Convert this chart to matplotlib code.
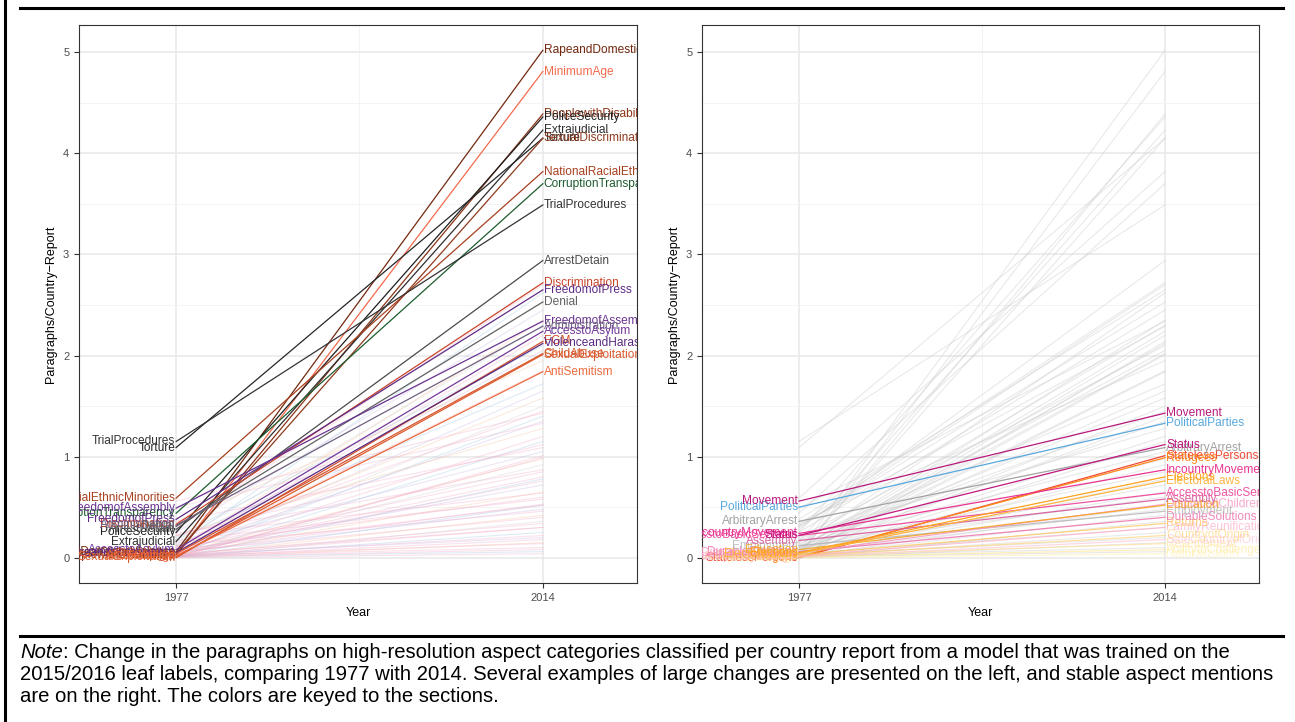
import matplotlib
matplotlib.use('Agg')
import matplotlib.pyplot as plt
from matplotlib.lines import Line2D
import numpy as np

plt.rcParams['font.family'] = ['Liberation Sans', 'DejaVu Sans']

# ------------------------------------------------------------------ data ---

years = [1977, 2014]

# aspects with large changes (labelled on the left)
big_names = ['RapeandDomesticViolence', 'MinimumAge', 'PeoplewithDisabilities',
             'PoliceSecurity', 'Extrajudicial', 'Torture', 'SexualDiscrimination',
             'NationalRacialEthnicMinorities', 'CorruptionTransparency',
             'TrialProcedures', 'ArrestDetain', 'Discrimination', 'FreedomofPress',
             'Denial', 'FreedomofAssembly', 'Administration', 'AccesstoAsylum',
             'FGM', 'ViolenceandHarassment', 'ChildAbuse', 'SexualExploitation',
             'AntiSemitism']
big_1977 = [0.06, 0.02, 0.03, 0.25, 0.16, 1.09, 0.05, 0.59, 0.44, 1.15, 0.28,
            0.33, 0.38, 0.31, 0.49, 0.32, 0.08, 0.00, 0.05, 0.04, 0.01, 0.02]
big_2014 = [5.02, 4.81, 4.39, 4.36, 4.23, 4.15, 4.15, 3.82, 3.70, 3.49, 2.94,
            2.72, 2.65, 2.53, 2.34, 2.29, 2.24, 2.14, 2.12, 2.02, 2.01, 1.84]

# stable aspects (labelled on the right), faint ones first
stable_names = ['StatelessPersons', 'Refugees', 'Naturalization',
                'AbilitytoChallenge', 'Resettlement', 'SafeCountryofOrigin',
                'CountryofOrigin', 'FamilyReunification', 'Returns',
                'DurableSolutions', 'Employment', 'DisplacedChildren', 'Education',
                'Assembly', 'AccesstoBasicServices', 'ElectoralLaws', 'Elections',
                'IncountryMovement', 'ArbitraryArrest', 'Status',
                'PoliticalParties', 'Movement']
stable_1977 = [0.00, 0.01, 0.00, 0.01, 0.02, 0.01, 0.02, 0.02, 0.03, 0.06, 0.12,
               0.05, 0.08, 0.17, 0.22, 0.04, 0.05, 0.24, 0.36, 0.22, 0.50, 0.56]
stable_2014 = [1.01, 0.99, 0.04, 0.08, 0.14, 0.18, 0.22, 0.30, 0.34, 0.40, 0.46,
               0.53, 0.52, 0.58, 0.64, 0.76, 0.80, 0.87, 1.09, 1.12, 1.33, 1.43]

# the remaining aspects (background lines)
other_1977 = [0.30, 0.12, 0.25, 0.08, 0.15, 0.05, 0.20, 0.10, 0.35, 0.04, 0.18,
              0.06, 0.10, 0.02, 0.14, 0.03, 0.08, 0.22, 0.05, 0.01, 0.12, 0.04,
              0.02, 0.09, 0.00, 0.06, 0.03, 0.11, 0.01, 0.05, 0.02, 0.00, 0.04,
              0.01, 0.03, 0.00, 0.02, 0.01]
other_2014 = [2.70, 2.62, 2.45, 2.35, 2.30, 2.20, 2.10, 2.05, 1.95, 1.85, 1.72,
              1.65, 1.58, 1.50, 1.45, 1.40, 1.35, 1.28, 1.20, 1.15, 1.05, 0.98,
              0.92, 0.85, 0.78, 0.72, 0.65, 0.60, 0.52, 0.48, 0.42, 0.36, 0.30,
              0.25, 0.20, 0.15, 0.10, 0.06]
other_section = ['p', 'b', 'l', 'o', 'g', 'p', 'b', 'l', 'o', 'p', 'b', 'l', 'o',
                 'g', 'p', 'b', 'l', 'o', 'p', 'b', 'l', 'o', 'g', 'p', 'b', 'l',
                 'o', 'p', 'b', 'l', 'o', 'g', 'p', 'b', 'l', 'o', 'p', 'b']

note_lines = ['Change in the paragraphs on high-resolution aspect categories classified '
              'per country report from a model that was trained on the',
              '2015/2016 leaf labels, comparing 1977 with 2014. Several examples of large '
              'changes are presented on the left, and stable aspect mentions',
              'are on the right. The colors are keyed to the sections.']

# ---------------------------------------------------------------- styles ---

colour = {
    'RapeandDomesticViolence': '#73290f', 'MinimumAge': '#f46a4e',
    'PeoplewithDisabilities': '#8a3416', 'PoliceSecurity': '#1f1f1f',
    'Extrajudicial': '#2e2e2e', 'Torture': '#262626',
    'SexualDiscrimination': '#8f3a1c', 'NationalRacialEthnicMinorities': '#a8401f',
    'CorruptionTransparency': '#1d5c2e', 'TrialProcedures': '#333333',
    'ArrestDetain': '#4a4a4a', 'Discrimination': '#c8442a',
    'FreedomofPress': '#5f2b86', 'Denial': '#616161',
    'FreedomofAssembly': '#6a3391', 'Administration': '#6f6180',
    'AccesstoAsylum': '#74399a', 'FGM': '#d2502e',
    'ViolenceandHarassment': '#5a2a80', 'ChildAbuse': '#d4562e',
    'SexualExploitation': '#dd5a2c', 'AntiSemitism': '#eb6a3c',
    'Movement': '#b8197c', 'PoliticalParties': '#58a8dc', 'Status': '#c0187e',
    'ArbitraryArrest': '#a3a3a3', 'StatelessPersons': '#f04a33',
    'Refugees': '#ff8a1c', 'IncountryMovement': '#ea3593', 'Elections': '#ffa31f',
    'ElectoralLaws': '#ffb540', 'AccesstoBasicServices': '#ef4d9e',
    'Assembly': '#d65a9c', 'Education': '#f7a21c', 'DisplacedChildren': '#f59cc4',
    'Employment': '#b3b3b3', 'DurableSolutions': '#ee64a6', 'Returns': '#ffc24f',
    'FamilyReunification': '#fcaac6', 'CountryofOrigin': '#ffcf6a',
    'SafeCountryofOrigin': '#fdbdd2', 'Resettlement': '#ffdb85',
    'AbilitytoChallenge': '#ffe27a', 'Naturalization': '#ffee9e',
}
pastel = {'p': '#f3a9c9', 'b': '#9fc8e6', 'l': '#c9b5e3', 'o': '#f8c39c', 'g': '#cfcfcf'}

lab_size = 8.6

# ---------------------------------------------------------------- figure ---

fig = plt.figure(figsize=(12.95, 7.22), dpi=100)
W, H = 1295, 722
ax1 = fig.add_axes([79 / W, 1 - 583 / H, 558 / W, 558 / H])
ax2 = fig.add_axes([702 / W, 1 - 583 / H, 557 / W, 558 / H])


def habille(ax):
    ax.set_xlim(1967.2, 2023.5)
    ax.set_ylim(-0.25, 5.27)
    ax.set_xticks(years)
    ax.set_xticks([1995.5], minor=True)
    ax.set_yticks(range(6))
    ax.set_yticks(np.arange(0.5, 5.5, 1), minor=True)
    ax.grid(which='major', color='#e8e8e8', lw=1.1)
    ax.grid(which='minor', color='#f3f3f3', lw=0.6)
    ax.set_axisbelow(True)
    ax.tick_params(which='minor', length=0)
    ax.tick_params(which='major', length=3.5, width=0.8, color='#333333',
                   labelcolor='#4d4d4d', labelsize=8)
    for s in ax.spines.values():
        s.set_color('#333333')
        s.set_linewidth(0.8)
    ax.set_xlabel('Year', fontsize=9, labelpad=3)
    ax.set_ylabel('Paragraphs/Country\u2212Report', fontsize=9, labelpad=4)


habille(ax1)
habille(ax2)

# left panel : large changes
for a, b, s in zip(other_1977 + stable_1977, other_2014 + stable_2014,
                   other_section + ['p'] * len(stable_1977)):
    ax1.plot(years, [a, b], color=pastel[s], lw=0.8, alpha=0.35)
for n, a, b in zip(big_names, big_1977, big_2014):
    c = colour[n]
    ax1.plot(years, [a, b], color=c, lw=0.9)
    ax1.text(1977 - 0.1, a, n, ha='right', va='center', fontsize=lab_size,
             color=c, clip_on=True)
    ax1.text(2014 + 0.1, b, n, ha='left', va='center', fontsize=lab_size,
             color=c, clip_on=True)

# right panel : stable aspects
for a, b in zip(other_1977 + big_1977, other_2014 + big_2014):
    ax2.plot(years, [a, b], color='#c8c8c8', lw=0.8, alpha=0.4)
for n, a, b in zip(stable_names, stable_1977, stable_2014):
    c = colour[n]
    al = min(1.0, 0.45 + 0.8 * b)
    ax2.plot(years, [a, b], color=c, lw=0.9, alpha=al)
    ax2.text(1977 - 0.1, a, n, ha='right', va='center', fontsize=lab_size,
             color=c, alpha=al, clip_on=True)
    ax2.text(2014 + 0.1, b, n, ha='left', va='center', fontsize=lab_size,
             color=c, alpha=al, clip_on=True)

# cadre et note
fig.add_artist(Line2D([5 / W, 5 / W], [0, 1], color='black', lw=2.2,
                      transform=fig.transFigure))
fig.add_artist(Line2D([20 / W, 1283 / W], [1 - 8 / H, 1 - 8 / H], color='black',
                      lw=2.2, transform=fig.transFigure))
fig.add_artist(Line2D([20 / W, 1283 / W], [1 - 636 / H, 1 - 636 / H],
                      color='black', lw=2.2, transform=fig.transFigure))

fs_note = 14.6
t0 = fig.text(20 / W, 1 - 653 / H, 'Note', fontsize=fs_note, style='italic',
              va='center', ha='left')
r = fig.canvas.get_renderer()
bb = t0.get_window_extent(r)
fig.text(bb.x1 / W, 1 - 653 / H, ': ' + note_lines[0], fontsize=fs_note,
         va='center', ha='left')
for k, ligne in enumerate(note_lines[1:]):
    fig.text(20 / W, 1 - (675 + 22 * k) / H, ligne, fontsize=fs_note,
             va='center', ha='left')

fig.savefig('out.png', dpi=100)
